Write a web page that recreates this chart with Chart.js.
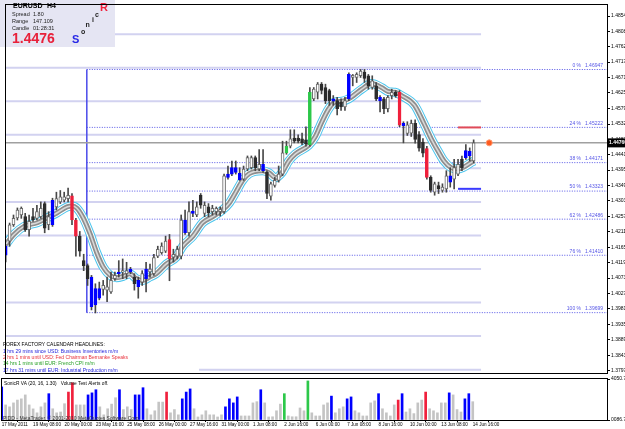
<!DOCTYPE html>
<html>
<head>
<meta charset="utf-8">
<script src="https://cdn.jsdelivr.net/npm/chart.js@4/dist/chart.umd.min.js"></script>
<style>
  html, body { margin: 0; padding: 0; background: #fff; }
  #wrap { position: relative; width: 625px; height: 429px; overflow: hidden; background: #fff; }
  canvas { position: absolute; left: 0; }
</style>
</head>
<body>
<div id="wrap">
  <canvas id="chart-price" width="625" height="378" style="top:0"></canvas>
  <canvas id="chart-volume" width="625" height="57" style="top:372px"></canvas>
</div>
<script>
const FONT = "'Liberation Sans', Arial, sans-serif";
Chart.defaults.font.family = FONT;
Chart.defaults.color = '#000';

// EURUSD H4 candles, bar 0 = 17 May 2011
const opens = [1.4168,1.4183,1.4232,1.4252,1.4261,1.4256,1.4217,1.4256,1.4251,1.4256,
  1.4295,1.4232,1.4232,1.4285,1.4300,1.4305,1.4310,1.4318,1.4246,1.4198,
  1.4125,1.4110,1.4076,1.3993,1.4013,1.4039,1.4037,1.4032,1.4071,1.4086,
  1.4091,1.4086,1.4091,1.4076,1.4066,1.4061,1.4071,1.4091,1.4086,1.4138,
  1.4149,1.4153,1.4188,1.4135,1.4138,1.4138,1.4246,1.4208,1.4266,1.4261,
  1.4320,1.4266,1.4285,1.4271,1.4271,1.4271,1.4271,1.4373,1.4383,1.4388,
  1.4385,1.4368,1.4398,1.4402,1.4432,1.4398,1.4412,1.4388,1.4317,1.4349,
  1.4364,1.4383,1.4446,1.4466,1.4490,1.4490,1.4488,1.4485,1.4471,1.4607,
  1.4627,1.4651,1.4641,1.4632,1.4607,1.4602,1.4598,1.4583,1.4607,1.4671,
  1.4671,1.4676,1.4687,1.4676,1.4641,1.4646,1.4612,1.4607,1.4578,1.4617,
  1.4627,1.4627,1.4534,1.4504,1.4505,1.4534,1.4501,1.4478,1.4459,1.4373,
  1.4329,1.4349,1.4334,1.4339,1.4359,1.4368,1.4383,1.4427,1.4432,1.4437,
  1.4422];
const highs = [1.4173,1.4237,1.4261,1.4282,1.4285,1.4266,1.4261,1.4281,1.4290,1.4300,
  1.4300,1.4271,1.4311,1.4329,1.4334,1.4329,1.4341,1.4325,1.4251,1.4212,
  1.4144,1.4115,1.4081,1.4056,1.4061,1.4066,1.4076,1.4091,1.4091,1.4125,
  1.4130,1.4120,1.4105,1.4086,1.4076,1.4095,1.4120,1.4115,1.4144,1.4168,
  1.4178,1.4198,1.4203,1.4159,1.4168,1.4261,1.4276,1.4300,1.4305,1.4300,
  1.4325,1.4300,1.4295,1.4290,1.4285,1.4285,1.4383,1.4407,1.4422,1.4422,
  1.4402,1.4407,1.4437,1.4437,1.4437,1.4456,1.4456,1.4393,1.4359,1.4373,
  1.4407,1.4481,1.4481,1.4515,1.4515,1.4500,1.4505,1.4524,1.4641,1.4641,
  1.4656,1.4656,1.4651,1.4636,1.4617,1.4612,1.4607,1.4612,1.4685,1.4680,
  1.4685,1.4695,1.4695,1.4680,1.4676,1.4656,1.4617,1.4612,1.4617,1.4636,
  1.4632,1.4632,1.4539,1.4539,1.4544,1.4545,1.4510,1.4489,1.4466,1.4378,
  1.4359,1.4359,1.4354,1.4393,1.4402,1.4427,1.4427,1.4437,1.4471,1.4461,
  1.4485];
const lows = [1.4121,1.4168,1.4227,1.4246,1.4251,1.4212,1.4198,1.4242,1.4246,1.4251,
  1.4208,1.4217,1.4227,1.4276,1.4295,1.4300,1.4300,1.4232,1.4138,1.4138,
  1.4095,1.4051,1.3978,1.3969,1.4008,1.4022,1.4003,1.4027,1.4066,1.4076,
  1.4071,1.4071,1.4086,1.4037,1.4013,1.4051,1.4032,1.4076,1.4081,1.4134,
  1.4144,1.4149,1.4065,1.4121,1.4130,1.4130,1.4203,1.4198,1.4256,1.4256,
  1.4281,1.4256,1.4256,1.4261,1.4261,1.4258,1.4266,1.4368,1.4378,1.4383,
  1.4364,1.4364,1.4393,1.4398,1.4393,1.4393,1.4388,1.4310,1.4305,1.4344,
  1.4359,1.4378,1.4442,1.4461,1.4476,1.4476,1.4471,1.4466,1.4466,1.4602,
  1.4607,1.4622,1.4593,1.4588,1.4588,1.4559,1.4573,1.4573,1.4602,1.4646,
  1.4656,1.4671,1.4656,1.4636,1.4636,1.4602,1.4568,1.4563,1.4568,1.4607,
  1.4612,1.4524,1.4476,1.4498,1.4495,1.4475,1.4451,1.4434,1.4368,1.4329,
  1.4320,1.4325,1.4329,1.4329,1.4344,1.4339,1.4378,1.4393,1.4427,1.4422,
  1.4417];
const closes = [1.4141,1.4232,1.4251,1.4276,1.4281,1.4217,1.4242,1.4246,1.4271,1.4281,
  1.4222,1.4256,1.4305,1.4310,1.4315,1.4315,1.4320,1.4246,1.4198,1.4153,
  1.4110,1.4071,1.3988,1.4042,1.4042,1.4051,1.4047,1.4066,1.4081,1.4091,
  1.4095,1.4095,1.4100,1.4056,1.4047,1.4086,1.4100,1.4100,1.4134,1.4159,
  1.4168,1.4183,1.4130,1.4144,1.4159,1.4246,1.4208,1.4271,1.4273,1.4285,
  1.4290,1.4290,1.4268,1.4281,1.4281,1.4278,1.4378,1.4383,1.4402,1.4402,
  1.4366,1.4398,1.4432,1.4432,1.4402,1.4412,1.4393,1.4325,1.4354,1.4364,
  1.4383,1.4446,1.4466,1.4488,1.4481,1.4481,1.4476,1.4473,1.4627,1.4636,
  1.4651,1.4632,1.4602,1.4602,1.4600,1.4578,1.4583,1.4602,1.4680,1.4677,
  1.4680,1.4690,1.4668,1.4646,1.4661,1.4607,1.4602,1.4578,1.4612,1.4627,
  1.4617,1.4529,1.4527,1.4530,1.4534,1.4486,1.4460,1.4445,1.4373,1.4334,
  1.4354,1.4339,1.4344,1.4378,1.4378,1.4402,1.4412,1.4402,1.4453,1.4451,
  1.4476];
const candleBlue = [0,12,22,23,24,29,32,34,36,46,48,57,58,59,60,66,84,88,96,102,114,118,119];
const candleRed = [17,18,42,101,108];
const candleGreen = [72,78];

const volumes = [3270,1490,1300,1690,1970,2090,2480,1490,1100,710,
  1300,1690,2600,1110,710,790,1610,2760,3670,1490,
  1490,1490,2480,2680,2990,1300,510,1110,1570,2200,
  2990,1030,1300,1030,2480,2480,3190,1110,510,910,
  1770,1770,2760,710,1030,510,2090,2760,3070,1110,
  300,510,910,510,510,300,510,1300,2090,1690,
  2280,400,400,400,1690,1810,2990,1690,300,320,
  910,1570,2600,400,320,320,1190,910,3860,710,
  400,400,1490,1690,2360,710,1110,1300,2090,2280,
  910,710,400,400,1690,1890,2600,1110,710,400,
  1490,1970,2600,790,1110,630,1690,1970,2760,1110,
  910,710,1690,1690,2680,2480,1030,790,2090,2600,
  1810];
const volBlue = [0,12,22,23,24,30,34,35,36,46,47,48,57,58,59,60,66,84,88,89,96,102,114,118,119];
const volRed = [17,18,42,101,108];
const volGreen = [72,78];

// dragon band centre, read at these bar positions
const maX = [0,2.1,4.7,8.1,10.6,13.1,15.7,17,18.2,19.9,21.7,23.3,25,26.8,28.4,30.1,31.8,33.5,35.2,36.9,
  38.6,41.2,43.7,45.4,48,50.5,53.1,55.6,57.3,59,60.7,62.4,65.8,67.5,69.2,70.9,72.6,74.3,77.7,79.4,
  81.1,82.8,84.5,86.2,87.9,91.3,93.8,96.4,98.1,99.8,101.5,104.8,107.3,109.1,110.9,112.4,114.2,116,117.5,119.3,120.1];
const maY = [1.4173,1.4203,1.4227,1.4238,1.4252,1.4267,1.4285,1.4288,1.4282,1.4252,1.4203,1.4150,1.4106,1.4081,1.4074,
  1.4078,1.4086,1.4071,1.4066,1.4076,1.4086,1.4115,1.4135,1.4168,1.4198,1.4238,1.4256,1.4276,1.4296,1.4329,
  1.4363,1.4384,1.4393,1.4387,1.4372,1.4388,1.4422,1.4443,1.4469,1.4495,1.4539,1.4577,1.4598,1.4600,1.4607,
  1.4636,1.4653,1.4641,1.4629,1.4627,1.4617,1.4589,1.4533,1.4489,1.4451,1.4422,1.4402,1.4398,1.4404,1.4417,1.4422];

const roundLevels = [1.48,1.47,1.46,1.45,1.44,1.43,1.42,1.41,1.40,1.39,1.38];
const fibPct = ['0 %','24 %','38 %','50 %','62 %','76 %','100 %'];
const fibLevels = [1.46947,1.45222,1.44171,1.43323,1.42486,1.41410,1.39699];
const fibStartBar = 20.8;

const priceTicks = [1.4854,1.4808,1.4762,1.4717,1.4671,1.4625,1.4579,1.4532,1.4487,1.4441,1.4395,1.4349,
  1.4303,1.4257,1.4211,1.4165,1.4119,1.4073,1.4027,1.3981,1.3935,1.3889,1.3843,1.3797];
const timeTickBars = [0,8,16,24,32,40,48,56,64,72,80,88,96,104,112,120];
const timeLabels = ['17 May 2011','19 May 08:00','20 May 00:00','23 May 16:00','25 May 08:00','26 May 00:00',
  '27 May 16:00','31 May 00:00','1 Jun 08:00','2 Jun 16:00','6 Jun 00:00','7 Jun 08:00','8 Jun 16:00',
  '10 Jun 00:00','13 Jun 08:00','14 Jun 16:00'];
const volTickValues = [0, 4050.79];
const volTickLabels = ['0086.79', '4050.79'];

const lastPrice = 1.4476;
const sessionHigh = 1.4522;
const sessionLow = 1.4339;
const markFromBar = 116, markToBar = 121.9;
const roundLineEnd = 121.9;
const dotBar = 124;

const infoRows = [['Spread', '1.80'], ['Range', '147.109'], ['Candle', '01:28:31']];
const headlines = [
  '1 hrs 29 mins since USD: Business Inventories m/m',
  '2 hrs 1 mins until USD: Fed Chairman Bernanke Speaks',
  '14 hrs 1 mins until EUR: French CPI m/m',
  '17 hrs 31 mins until EUR: Industrial Production m/m'
];
const headlineColors = ['#2424dc', '#e8323c', '#26a026', '#2424dc'];

const X_MIN = -0.18, X_MAX = 154.2;
const Y_MIN = 1.3790, Y_MAX = 1.4887;

const colors = {
  up: '#ffffff', upEdge: '#6a6a6a', down: '#2c2c2c', wick: '#484848',
  blue: '#0000ff', red: '#f0203c', green: '#2dc84a', vol: '#c4c4c4',
  lavender: '#d2d2f0', fib: '#5555e6', cyan: '#4cc6ee', band: '#8e8e8e', bandCore: '#d8d8d8'
};

const bars = opens.map((_, i) => i);

function markColor(i, blue, red, green) {
  if (blue.includes(i)) return colors.blue;
  if (red.includes(i)) return colors.red;
  if (green.includes(i)) return colors.green;
  return null;
}

function bodyFill(i) {
  return markColor(i, candleBlue, candleRed, candleGreen) || (closes[i] >= opens[i] ? colors.up : colors.down);
}

function bodyEdge(i) {
  return markColor(i, candleBlue, candleRed, candleGreen) || (closes[i] >= opens[i] ? colors.upEdge : colors.down);
}

function hLine(x0, x1, y, color, width, dash, order) {
  return {
    type: 'line', data: [{ x: x0, y }, { x: x1, y }],
    borderColor: color, borderWidth: width, borderDash: dash || [],
    pointRadius: 0, order
  };
}

function bandLayer(color, width, order) {
  return {
    type: 'line', data: maX.map((x, i) => ({ x, y: maY[i] })),
    borderColor: color, borderWidth: width, pointRadius: 0,
    cubicInterpolationMode: 'monotone', order
  };
}

function drawText(ctx, str, x, y, font, color, align) {
  ctx.font = font;
  ctx.fillStyle = color;
  ctx.textAlign = align || 'left';
  ctx.textBaseline = 'middle';
  ctx.fillText(str, x, y);
}

const priceOverlay = {
  id: 'priceOverlay',
  afterDraw(chart) {
    const { ctx, chartArea: area, scales: { y } } = chart;
    ctx.save();

    // fibonacci labels
    fibLevels.forEach((lvl, k) => {
      const py = y.getPixelForValue(lvl) - 4;
      drawText(ctx, fibPct[k], area.right - 26, py, `5px ${FONT}`, colors.fib, 'right');
      drawText(ctx, lvl.toFixed(5), area.right - 4, py, `5px ${FONT}`, colors.fib, 'right');
    });

    // info box
    ctx.fillStyle = '#e5e5f3';
    ctx.fillRect(0, 0, 115, 47);
    drawText(ctx, 'EURUSD', 13, 6.5, `bold 7px ${FONT}`, '#000');
    drawText(ctx, 'H4', 47, 6.5, `bold 7px ${FONT}`, '#000');
    infoRows.forEach(([label, val], k) => {
      drawText(ctx, label, 12, 14.5 + k * 7, `5.5px ${FONT}`, '#222');
      drawText(ctx, val, 33, 14.5 + k * 7, `5.5px ${FONT}`, '#222');
    });
    drawText(ctx, lastPrice.toFixed(4), 12, 39, `bold 14px ${FONT}`, '#e8203a');
    drawText(ctx, 'S', 72, 39.5, `bold 11px ${FONT}`, '#2828e6');
    drawText(ctx, 'o', 81, 32, `bold 7px ${FONT}`, '#222');
    drawText(ctx, 'n', 85.5, 25, `bold 7px ${FONT}`, '#222');
    drawText(ctx, 'i', 92, 20.5, `bold 7px ${FONT}`, '#222');
    drawText(ctx, 'c', 95, 15, `bold 7px ${FONT}`, '#222');
    drawText(ctx, 'R', 100, 7.5, `bold 11px ${FONT}`, '#f0203c');

    // headlines block
    ctx.fillStyle = '#fff';
    ctx.fillRect(area.left + 1, 340, 193, area.bottom - 340);
    drawText(ctx, 'FOREX FACTORY CALENDAR HEADLINES:', 3, 345, `5px ${FONT}`, '#000');
    headlines.forEach((h, k) => drawText(ctx, h, 3, 351.7 + k * 6.2, `5px ${FONT}`, headlineColors[k]));

    // last price box on the axis
    const py = y.getPixelForValue(lastPrice);
    ctx.fillStyle = '#000';
    ctx.fillRect(area.right, py - 4.5, 18, 9);
    drawText(ctx, lastPrice.toFixed(5), area.right + 2, py, `bold 5px ${FONT}`, '#fff');

    ctx.strokeStyle = '#000';
    ctx.lineWidth = 1;
    ctx.strokeRect(area.left + 0.5, area.top - 0.5, area.right - area.left, area.bottom - area.top + 1);
    ctx.restore();
  }
};

const volumeOverlay = {
  id: 'volumeOverlay',
  afterDraw(chart) {
    const { ctx, chartArea: area } = chart;
    ctx.save();
    drawText(ctx, 'SonicR VA (20, 16, 1.30)   Volume Test Alerts off.', 4, 11.5, `4.8px ${FONT}`, '#000');
    drawText(ctx, 'PIDD - MetaTrader, \u00a9 2001-2010 MetaQuotes Software Corp.', 3, 46.5, `5px ${FONT}`, '#333');
    ctx.strokeStyle = '#000';
    ctx.lineWidth = 1;
    ctx.strokeRect(area.left + 0.5, area.top - 0.5, area.right - area.left, area.bottom - area.top + 1);
    ctx.restore();
  }
};

function zeroPadding(scale) {
  scale.paddingTop = 0;
  scale.paddingBottom = 0;
  scale.paddingLeft = 0;
  scale.paddingRight = 0;
}

function createPriceChart() {
  const datasets = [];
  roundLevels.forEach(l => datasets.push(hLine(X_MIN, roundLineEnd, l, colors.lavender, 2, null, 40)));
  fibLevels.forEach(l => datasets.push(hLine(fibStartBar, X_MAX, l, colors.fib, 1, [1, 1.5], 35)));
  datasets.push({
    type: 'line', data: [{ x: fibStartBar, y: fibLevels[0] }, { x: fibStartBar, y: fibLevels[fibLevels.length - 1] }],
    borderColor: '#4b4bea', borderWidth: 1.5, pointRadius: 0, order: 34
  });
  datasets.push(hLine(X_MIN, X_MAX, lastPrice, '#a0a0a0', 1.5, null, 33));
  datasets.push(hLine(markFromBar, markToBar, sessionHigh, '#e04a58', 2, null, 32));
  datasets.push(hLine(markFromBar, markToBar, sessionLow, '#3a3aff', 2, null, 32));
  datasets.push(bandLayer(colors.cyan, 9, 24));
  datasets.push(bandLayer('#ffffff', 7, 23));
  datasets.push(bandLayer(colors.band, 5, 22));
  datasets.push(bandLayer(colors.bandCore, 1.6, 21));
  datasets.push({
    type: 'bar', data: bars.map(i => ({ x: i, y: [lows[i], highs[i]] })),
    backgroundColor: colors.wick, barThickness: 1, grouped: false, order: 2
  });
  datasets.push({
    type: 'bar', data: bars.map(i => ({ x: i, y: [opens[i], closes[i]] })),
    backgroundColor: c => bodyFill(c.dataIndex), borderColor: c => bodyEdge(c.dataIndex),
    borderWidth: 1, borderSkipped: false, barThickness: 3, grouped: false, order: 1
  });
  datasets.push({
    type: 'line', data: [{ x: dotBar, y: lastPrice }], showLine: false,
    pointRadius: 3, pointBackgroundColor: '#ff5a1e', pointBorderColor: '#ff9a70', pointBorderWidth: 1, order: 0
  });

  return new Chart(document.getElementById('chart-price'), {
    type: 'bar',
    data: { datasets },
    options: {
      responsive: false, animation: false, devicePixelRatio: 1, events: [],
      layout: { padding: { left: 1, right: 0, top: 1, bottom: 2 } },
      plugins: { legend: { display: false }, tooltip: { enabled: false } },
      scales: {
        x: { type: 'linear', min: X_MIN, max: X_MAX, offset: false, display: false },
        y: {
          type: 'linear', position: 'right', min: Y_MIN, max: Y_MAX,
          afterBuildTicks: s => { s.ticks = priceTicks.map(v => ({ value: v })); },
          afterFit: s => { s.width = 18; zeroPadding(s); },
          ticks: { autoSkip: false, padding: 1, font: { size: 5 }, color: '#000', callback: v => v.toFixed(5) },
          grid: { drawOnChartArea: false, drawTicks: true, tickLength: 3, color: '#000' },
          border: { display: true, color: '#000' }
        }
      }
    },
    plugins: [priceOverlay]
  });
}

function createVolumeChart() {
  return new Chart(document.getElementById('chart-volume'), {
    type: 'bar',
    data: {
      datasets: [{
        data: bars.map(i => ({ x: i, y: volumes[i] })),
        backgroundColor: c => markColor(c.dataIndex, volBlue, volRed, volGreen) || colors.vol,
        barThickness: 2, grouped: false
      }]
    },
    options: {
      responsive: false, animation: false, devicePixelRatio: 1, events: [],
      layout: { padding: { left: 1, right: 0, top: 7, bottom: 0 } },
      plugins: { legend: { display: false }, tooltip: { enabled: false } },
      scales: {
        x: {
          type: 'linear', min: X_MIN, max: X_MAX, offset: false, position: 'bottom',
          afterBuildTicks: s => { s.ticks = timeTickBars.map(v => ({ value: v })); },
          afterFit: s => { s.height = 9; zeroPadding(s); },
          ticks: {
            autoSkip: false, maxRotation: 0, align: 'start', padding: 0,
            font: { size: 4.6 }, color: '#000', callback: (v, k) => timeLabels[k]
          },
          grid: { drawOnChartArea: false, drawTicks: true, tickLength: 2, color: '#000' },
          border: { display: true, color: '#000' }
        },
        y: {
          type: 'linear', position: 'right', min: 0, max: volTickValues[1],
          afterBuildTicks: s => { s.ticks = volTickValues.map(v => ({ value: v })); },
          afterFit: s => { s.width = 18; zeroPadding(s); },
          ticks: { autoSkip: false, padding: 1, font: { size: 5 }, color: '#000', callback: (v, k) => volTickLabels[k] },
          grid: { drawOnChartArea: false, drawTicks: true, tickLength: 3, color: '#000' },
          border: { display: true, color: '#000' }
        }
      }
    },
    plugins: [volumeOverlay]
  });
}

createPriceChart();
createVolumeChart();
</script>
</body>
</html>
